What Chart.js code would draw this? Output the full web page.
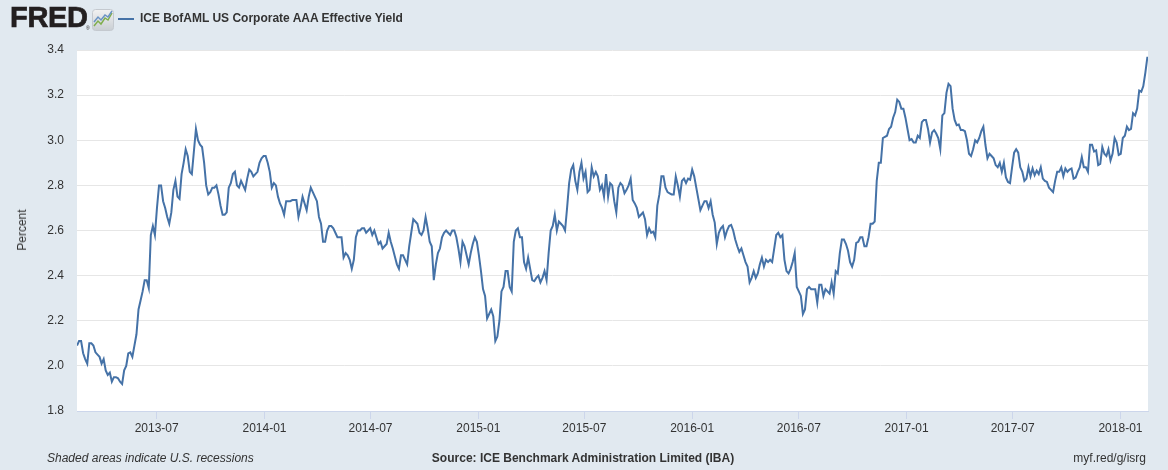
<!DOCTYPE html>
<html>
<head>
<meta charset="utf-8">
<script src="https://cdn.jsdelivr.net/npm/chart.js@4.4.1/dist/chart.umd.min.js"></script>
<style>
  html, body { margin: 0; padding: 0; }
  body { width: 1168px; height: 470px; background: #e1e9f0; position: relative; overflow: hidden;
         font-family: "Liberation Sans", Arial, sans-serif; color: #333; }
  #chart { position: absolute; left: 0; top: 0; }
  .abs { position: absolute; white-space: nowrap; }
  #logo { left: 10px; top: 1px; font-size: 29px; font-weight: bold; color: #231f20;
          letter-spacing: -0.3px; -webkit-text-stroke: 0.7px #231f20; }
  #reg { left: 86px; top: 25px; font-size: 5px; color: #231f20; }
  #icon { left: 92px; top: 9px; }
  #legline { left: 118px; top: 18px; width: 16px; height: 2px; background: #4572a7; }
  #title { left: 140px; top: 11px; font-size: 12px; font-weight: bold; color: #333; }
  #ytitle { left: 22px; top: 230px; font-size: 12px; transform: translate(-50%, -50%) rotate(-90deg); }
  #foot1 { left: 47px; top: 451px; font-size: 12px; font-style: italic; }
  #foot2 { left: 583px; top: 451px; font-size: 12px; font-weight: bold; transform: translateX(-50%); }
  #foot3 { right: 22px; top: 451px; font-size: 12px; }
</style>
</head>
<body>
<canvas id="chart" width="1168" height="470"></canvas>
<div class="abs" id="logo">FRED</div>
<div class="abs" id="reg">&reg;</div>
<svg class="abs" id="icon" width="22" height="22" viewBox="0 0 22 22">
  <defs>
    <linearGradient id="g" x1="0" y1="0" x2="0" y2="1">
      <stop offset="0" stop-color="#f2f2f2"/>
      <stop offset="1" stop-color="#c9ced3"/>
    </linearGradient>
  </defs>
  <rect x="0.5" y="0.5" width="21" height="21" rx="3" fill="url(#g)" stroke="#c4c9cf"/>
  <polyline points="2,17 6,12 9,15 13,9 16,11 20,4" fill="none" stroke="#7fae4d" stroke-width="1.5"/>
  <polyline points="2,13 6,8 9,11 13,6 16,8 20,2" fill="none" stroke="#6a93c4" stroke-width="1.5"/>
</svg>
<div class="abs" id="legline"></div>
<div class="abs" id="title">ICE BofAML US Corporate AAA Effective Yield</div>
<div class="abs" id="ytitle">Percent</div>
<div class="abs" id="foot1">Shaded areas indicate U.S. recessions</div>
<div class="abs" id="foot2">Source: ICE Benchmark Administration Limited (IBA)</div>
<div class="abs" id="foot3">myf.red/g/isrg</div>
<script>
// readings taken twice a week, first one on 2013-02-15
const firstDay = Date.UTC(2013, 1, 15);
const stepMs = 3.5 * 24 * 3600 * 1000;

const aaaYield = [
  2.09, 2.11, 2.11, 2.056, 2.03, 2.01, 2.10, 2.10, 2.09, 2.06,
  2.05, 2.04, 2.01, 2.03, 1.98, 1.96, 1.97, 1.93, 1.95, 1.95,
  1.945, 1.93, 1.92, 1.98, 2.00, 2.055, 2.06, 2.04, 2.09, 2.14,
  2.25, 2.29, 2.33, 2.38, 2.38, 2.345, 2.58, 2.62, 2.58, 2.70,
  2.80, 2.80, 2.73, 2.70, 2.66, 2.63, 2.68, 2.78, 2.82, 2.75,
  2.74, 2.85, 2.90, 2.96, 2.93, 2.86, 2.85, 2.95, 3.05, 3.00,
  2.98, 2.97, 2.90, 2.80, 2.76, 2.77, 2.79, 2.79, 2.80, 2.76,
  2.71, 2.67, 2.67, 2.68, 2.79, 2.81, 2.85, 2.86, 2.80, 2.79,
  2.82, 2.80, 2.78, 2.83, 2.87, 2.86, 2.84, 2.85, 2.86, 2.90,
  2.92, 2.93, 2.93, 2.90, 2.86, 2.79, 2.81, 2.80, 2.75, 2.72,
  2.70, 2.67, 2.73, 2.73, 2.73, 2.735, 2.735, 2.735, 2.66, 2.70,
  2.75, 2.72, 2.69, 2.75, 2.79, 2.77, 2.75, 2.73, 2.66, 2.63,
  2.55, 2.55, 2.60, 2.62, 2.62, 2.61, 2.59, 2.57, 2.57, 2.57,
  2.48, 2.50, 2.49, 2.47, 2.43, 2.47, 2.57, 2.60, 2.60, 2.61,
  2.61, 2.59, 2.60, 2.61, 2.58, 2.60, 2.57, 2.54, 2.55, 2.52,
  2.53, 2.54, 2.59, 2.55, 2.52, 2.485, 2.45, 2.43, 2.49, 2.49,
  2.47, 2.45, 2.53, 2.59, 2.65, 2.64, 2.63, 2.59, 2.58, 2.60,
  2.66, 2.61, 2.55, 2.53, 2.38, 2.45, 2.50, 2.52, 2.57, 2.59,
  2.60, 2.59, 2.58, 2.60, 2.60, 2.57, 2.52, 2.46, 2.55, 2.53,
  2.49, 2.45, 2.50, 2.54, 2.57, 2.55, 2.49, 2.42, 2.34, 2.31,
  2.21, 2.23, 2.25, 2.22, 2.11, 2.13, 2.20, 2.33, 2.35, 2.42,
  2.42, 2.35, 2.33, 2.55, 2.60, 2.61, 2.57, 2.57, 2.46, 2.43,
  2.48, 2.43, 2.38, 2.375, 2.39, 2.40, 2.37, 2.39, 2.42, 2.38,
  2.50, 2.60, 2.62, 2.67, 2.60, 2.64, 2.63, 2.62, 2.60, 2.70,
  2.81, 2.87, 2.89, 2.82, 2.78, 2.86, 2.90, 2.83, 2.86, 2.77,
  2.78, 2.88, 2.84, 2.86, 2.84, 2.78, 2.80, 2.75, 2.85, 2.75,
  2.81, 2.80, 2.73, 2.68, 2.79, 2.81, 2.80, 2.765, 2.78, 2.80,
  2.83, 2.735, 2.72, 2.70, 2.66, 2.67, 2.68, 2.65, 2.58, 2.61,
  2.59, 2.595, 2.57, 2.71, 2.76, 2.84, 2.84, 2.79, 2.77, 2.765,
  2.76, 2.76, 2.84, 2.80, 2.75, 2.82, 2.83, 2.81, 2.83, 2.825,
  2.87, 2.84, 2.79, 2.74, 2.69, 2.71, 2.73, 2.73, 2.70, 2.73,
  2.67, 2.635, 2.54, 2.59, 2.61, 2.62, 2.57, 2.60, 2.62, 2.625,
  2.60, 2.56, 2.53, 2.505, 2.52, 2.49, 2.46, 2.44, 2.37, 2.39,
  2.42, 2.39, 2.41, 2.45, 2.48, 2.44, 2.47, 2.46, 2.47, 2.46,
  2.52, 2.58, 2.59, 2.57, 2.58, 2.47, 2.42, 2.41, 2.43, 2.46,
  2.50, 2.35, 2.33, 2.31, 2.23, 2.25, 2.34, 2.35, 2.34, 2.34,
  2.34, 2.28, 2.36, 2.36, 2.31, 2.34, 2.33, 2.32, 2.37, 2.32,
  2.42, 2.41, 2.50, 2.56, 2.56, 2.54, 2.51, 2.46, 2.44, 2.47,
  2.545, 2.55, 2.57, 2.57, 2.53, 2.53, 2.57, 2.63, 2.63, 2.64,
  2.82, 2.90, 2.90, 3.01, 3.015, 3.02, 3.05, 3.06, 3.10, 3.125,
  3.18, 3.17, 3.14, 3.14, 3.10, 3.05, 3.00, 3.005, 2.99, 2.99,
  3.02, 3.01, 3.08, 3.09, 3.09, 3.05, 2.99, 3.035, 3.045, 3.03,
  3.01, 2.96, 3.11, 3.12, 3.21, 3.25, 3.24, 3.14, 3.09, 3.067,
  3.07, 3.045, 3.045, 3.04, 3.00, 2.94, 2.93, 2.96, 3.00, 2.99,
  3.01, 3.04, 3.06, 2.98, 2.92, 2.94, 2.93, 2.92, 2.89, 2.88,
  2.90, 2.86, 2.90, 2.835, 2.815, 2.81, 2.88, 2.945, 2.96, 2.945,
  2.88, 2.86, 2.82, 2.83, 2.88, 2.84, 2.875, 2.845, 2.865, 2.85,
  2.88, 2.83, 2.82, 2.815, 2.79, 2.78, 2.77, 2.82, 2.86, 2.86,
  2.88, 2.84, 2.875, 2.86, 2.87, 2.875, 2.83, 2.835, 2.86, 2.88,
  2.925, 2.88, 2.88, 2.86, 2.98, 2.98, 2.95, 2.955, 2.89, 2.895,
  2.97, 2.94, 2.93, 2.96, 2.91, 2.94, 3.01, 2.99, 2.935, 2.94,
  3.01, 3.02, 3.06, 3.045, 3.05, 3.12, 3.11, 3.14, 3.22, 3.215,
  3.24, 3.30, 3.37
];

const yTicks = [1.8, 2.0, 2.2, 2.4, 2.6, 2.8, 3.0, 3.2, 3.4];
const xTickMonths = ['2013-07', '2014-01', '2014-07', '2015-01', '2015-07',
                     '2016-01', '2016-07', '2017-01', '2017-07', '2018-01'];

const monthValue = m => Date.UTC(+m.slice(0, 4), +m.slice(5, 7) - 1, 1);
const points = aaaYield.map((v, i) => ({ x: firstDay + i * stepMs, y: v }));

const plotBg = {
  id: 'plotBg',
  beforeDraw(chart) {
    const a = chart.chartArea, ctx = chart.ctx;
    ctx.save();
    ctx.fillStyle = '#ffffff';
    ctx.fillRect(a.left, a.top, a.right - a.left, a.bottom - a.top);
    ctx.restore();
  }
};

Chart.defaults.font.family = '"Liberation Sans", Arial, sans-serif';
Chart.defaults.font.size = 12;
Chart.defaults.color = '#333333';

new Chart(document.getElementById('chart'), {
  type: 'line',
  data: {
    datasets: [{
      label: 'ICE BofAML US Corporate AAA Effective Yield',
      data: points,
      borderColor: '#4572a7',
      borderWidth: 2,
      pointRadius: 0,
      tension: 0,
      fill: false
    }]
  },
  options: {
    responsive: false,
    animation: false,
    devicePixelRatio: 1,
    layout: { padding: { top: 50, right: 20, bottom: 0, left: 0 } },
    plugins: { legend: { display: false }, tooltip: { enabled: false } },
    scales: {
      x: {
        type: 'linear',
        min: firstDay,
        max: firstDay + (aaaYield.length - 1) * stepMs + 24 * 3600 * 1000,
        afterBuildTicks: s => { s.ticks = xTickMonths.map(m => ({ value: monthValue(m) })); },
        afterFit: s => { s.height = 59; },
        ticks: {
          autoSkip: false,
          maxRotation: 0,
          padding: 2,
          callback: (v, i) => xTickMonths[i]
        },
        grid: { drawOnChartArea: false, color: '#ccd6eb', tickLength: 8 },
        border: { display: true, color: '#ccd6eb' }
      },
      y: {
        min: 1.8,
        max: 3.4,
        afterBuildTicks: s => { s.ticks = yTicks.map(v => ({ value: v })); },
        afterFit: s => { s.width = 77; },
        ticks: { padding: 13, callback: v => v.toFixed(1) },
        grid: { color: '#e6e6e6', drawTicks: false },
        border: { display: false }
      }
    }
  },
  plugins: [plotBg]
});
</script>
</body>
</html>
